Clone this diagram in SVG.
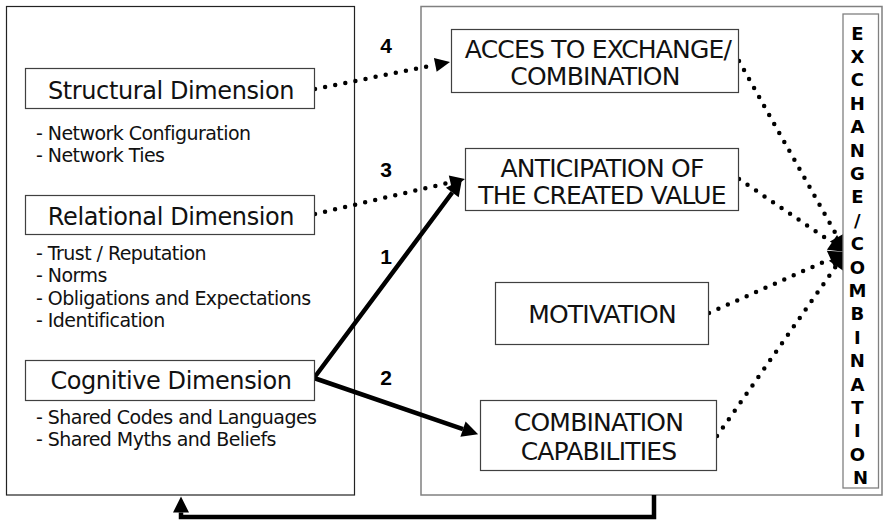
<svg xmlns="http://www.w3.org/2000/svg" width="883" height="522" viewBox="0 0 883 522">
  <style>
    .panel-l { fill: none; stroke: #222; stroke-width: 1.2; }
    .panel-r { fill: none; stroke: #808080; stroke-width: 1.5; }
    .box { fill: #fff; stroke: #404040; stroke-width: 1.2; }
    .head { font-family: "DejaVu Sans", Verdana, sans-serif; font-size: 24px; letter-spacing: -0.4px; fill: #111; text-anchor: middle; }
    .item { font-family: "DejaVu Sans", Verdana, sans-serif; font-size: 19px; letter-spacing: -0.55px; fill: #111; }
    .cap { font-family: "DejaVu Sans", Verdana, sans-serif; font-size: 25px; letter-spacing: -0.8px; fill: #111; text-anchor: middle; }
    .num { font-family: "Liberation Sans", Arial, sans-serif; font-weight: bold; font-size: 21px; fill: #000; text-anchor: middle; }
    .vert { font-family: "DejaVu Sans", Verdana, sans-serif; font-weight: bold; font-size: 18px; fill: #000; text-anchor: middle; }
    .dot { fill: none; stroke: #000; stroke-width: 4.5; stroke-linecap: round; stroke-dasharray: 0 10.3; }
    .solid { fill: none; stroke: #000; stroke-width: 4.5; stroke-linejoin: miter; }
  </style>
  <defs>
    <marker id="hd" markerUnits="userSpaceOnUse" markerWidth="16" markerHeight="16" refX="0" refY="0" orient="auto" overflow="visible">
      <path d="M0,-7 L15,0 L0,7 Z" fill="#000"/>
    </marker>
    <marker id="hx" markerUnits="userSpaceOnUse" markerWidth="18" markerHeight="18" refX="0" refY="0" orient="auto" overflow="visible">
      <path d="M0,-9 L17,0 L0,9 Z" fill="#000"/>
    </marker>
    <marker id="hs" markerUnits="userSpaceOnUse" markerWidth="17" markerHeight="17" refX="0" refY="0" orient="auto-start-reverse" overflow="visible">
      <path d="M0,-8 L16,0 L0,8 Z" fill="#000"/>
    </marker>
  </defs>

  <rect width="883" height="522" fill="#fff"/>

  <!-- outer panels -->
  <rect id="social-capital" class="panel-l" x="6.5" y="6.5" width="348" height="488.5"/>
  <rect id="conditions" class="panel-r" x="421" y="6.5" width="461" height="488.5"/>

  <!-- connectors -->
  <g id="connectors">
    <path class="dot" d="M315,89 L435.3,64.9" marker-end="url(#hd)"/>
    <path class="dot" d="M315,214 L450.4,182.4" marker-end="url(#hd)"/>
    <path class="solid" d="M452.3,192.5 L314,378 L463,429.1" marker-start="url(#hs)" marker-end="url(#hs)"/>
    <path class="dot" d="M739,61 L837.7,237.2" marker-end="url(#hx)"/>
    <path class="dot" d="M739,179 L832,242.4" marker-end="url(#hx)"/>
    <path class="dot" d="M709,313 L830.5,258.9" marker-end="url(#hx)"/>
    <path class="dot" d="M717,436 L836.2,265.9" marker-end="url(#hx)"/>
    <path class="solid" d="M654,495 V517 H181 V512.5" marker-end="url(#hs)"/>
  </g>

  <!-- connector numbers -->
  <g id="labels">
    <text class="num" x="386" y="53">4</text>
    <text class="num" x="386" y="177">3</text>
    <text class="num" x="386" y="264">1</text>
    <text class="num" x="386" y="385">2</text>
  </g>

  <!-- dimensions of social capital -->
  <g id="structural">
    <rect class="box" x="25.5" y="68.5" width="289" height="40"/>
    <text class="head" x="171" y="99">Structural Dimension</text>
    <text class="item" x="36" y="140">- Network Configuration</text>
    <text class="item" x="36" y="162">- Network Ties</text>
  </g>
  <g id="relational">
    <rect class="box" x="25.5" y="195.5" width="289" height="39"/>
    <text class="head" x="171" y="225">Relational Dimension</text>
    <text class="item" x="36" y="260">- Trust / Reputation</text>
    <text class="item" x="36" y="282.3">- Norms</text>
    <text class="item" x="36" y="304.6">- Obligations and Expectations</text>
    <text class="item" x="36" y="327">- Identification</text>
  </g>
  <g id="cognitive">
    <rect class="box" x="25.5" y="360.5" width="289" height="40"/>
    <text class="head" x="171" y="389">Cognitive Dimension</text>
    <text class="item" x="36" y="424">- Shared Codes and Languages</text>
    <text class="item" x="36" y="446">- Shared Myths and Beliefs</text>
  </g>

  <!-- conditions for exchange -->
  <g id="access">
    <rect class="box" x="451.5" y="29.5" width="287" height="63"/>
    <text class="cap" x="598" y="58">ACCES TO EXCHANGE/</text>
    <text class="cap" x="595" y="85">COMBINATION</text>
  </g>
  <g id="anticipation">
    <rect class="box" x="465.5" y="148.5" width="273" height="62"/>
    <text class="cap" x="602" y="177">ANTICIPATION OF</text>
    <text class="cap" x="602" y="204">THE CREATED VALUE</text>
  </g>
  <g id="motivation">
    <rect class="box" x="495.5" y="282.5" width="213" height="62"/>
    <text class="cap" x="602" y="323">MOTIVATION</text>
  </g>
  <g id="capabilities">
    <rect class="box" x="480.5" y="400.5" width="236" height="70"/>
    <text class="cap" x="598.5" y="431">COMBINATION</text>
    <text class="cap" x="598.5" y="460">CAPABILITIES</text>
  </g>

  <!-- outcome -->
  <g id="exchange">
    <rect x="843" y="14" width="35.5" height="474" fill="#fff" stroke="#808080" stroke-width="1.3"/>
    <text class="vert">
      <tspan x="860.5" y="39.5">E</tspan>
      <tspan x="860.5" y="62.9">X</tspan>
      <tspan x="860.5" y="86.3">C</tspan>
      <tspan x="860.5" y="109.7">H</tspan>
      <tspan x="860.5" y="133.1">A</tspan>
      <tspan x="860.5" y="156.5">N</tspan>
      <tspan x="860.5" y="179.9">G</tspan>
      <tspan x="860.5" y="203.3">E</tspan>
      <tspan x="860.5" y="226.7">/</tspan>
      <tspan x="860.5" y="250.1">C</tspan>
      <tspan x="860.5" y="273.5">O</tspan>
      <tspan x="860.5" y="296.9">M</tspan>
      <tspan x="860.5" y="320.3">B</tspan>
      <tspan x="860.5" y="343.7">I</tspan>
      <tspan x="860.5" y="367.1">N</tspan>
      <tspan x="860.5" y="390.5">A</tspan>
      <tspan x="860.5" y="413.9">T</tspan>
      <tspan x="860.5" y="437.3">I</tspan>
      <tspan x="860.5" y="460.7">O</tspan>
      <tspan x="860.5" y="484.1">N</tspan>
    </text>
  </g>
</svg>
